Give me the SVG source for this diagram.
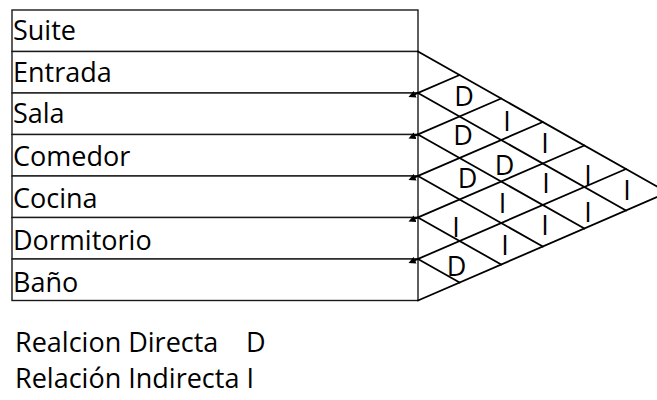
<svg xmlns="http://www.w3.org/2000/svg" width="657" height="400" viewBox="0 0 657 400">
  <style>
    .cell { fill: #ffffff; stroke: #1a1a1a; stroke-width: 1.4; }
    .label { font-family: "Open Sans", "Noto Sans", sans-serif; font-size: 27px; fill: #000000; }
    .mark { font-family: "Open Sans", "Noto Sans", sans-serif; font-size: 27px; fill: #000000; text-anchor: middle; }
    .grid line { stroke: #000000; stroke-width: 1.8; stroke-linecap: round; }
  </style>
  <defs>
    <marker id="tick" viewBox="0 0 6 6" refX="1" refY="3" markerWidth="4" markerHeight="4" orient="auto-start-reverse">
      <path d="M0,0 L6,3 L0,6 z" fill="#000000"/>
    </marker>
  </defs>
  <rect width="657" height="400" fill="#ffffff"/>

  <!-- room list -->
  <g id="suite"><rect class="cell" x="12" y="10" width="406" height="41.5"/><text class="label" x="13" y="40">Suite</text></g>
  <g id="entrada"><rect class="cell" x="12" y="51.5" width="406" height="41.5"/><text class="label" x="13" y="82.3">Entrada</text></g>
  <g id="sala"><rect class="cell" x="12" y="93" width="406" height="41.5"/><text class="label" x="13" y="123">Sala</text></g>
  <g id="comedor"><rect class="cell" x="12" y="134.5" width="406" height="41.5"/><text class="label" x="13" y="166">Comedor</text></g>
  <g id="cocina"><rect class="cell" x="12" y="176" width="406" height="41.5"/><text class="label" x="13" y="208">Cocina</text></g>
  <g id="dormitorio"><rect class="cell" x="12" y="217.5" width="406" height="41.5"/><text class="label" x="13" y="250">Dormitorio</text></g>
  <g id="bano"><rect class="cell" x="12" y="259" width="406" height="41.5"/><text class="label" x="13" y="291.7">Baño</text></g>

  <!-- relationship triangle: descending and ascending lattice lines -->
  <g id="connectors" class="grid">
    <line x1="418" y1="51.5" x2="667.6" y2="192.5"/>
    <line x1="418" y1="93" x2="626" y2="210.5"/>
    <line x1="418" y1="134.5" x2="584.4" y2="228.5"/>
    <line x1="418" y1="176" x2="542.8" y2="246.5"/>
    <line x1="418" y1="217.5" x2="501.2" y2="264.5"/>
    <line x1="418" y1="259" x2="459.6" y2="282.5"/>

    <line x1="414" y1="94.7" x2="459.6" y2="75" marker-start="url(#tick)"/>
    <line x1="414" y1="136.2" x2="501.2" y2="98.5" marker-start="url(#tick)"/>
    <line x1="414" y1="177.7" x2="542.8" y2="122" marker-start="url(#tick)"/>
    <line x1="414" y1="219.2" x2="584.4" y2="145.5" marker-start="url(#tick)"/>
    <line x1="414" y1="260.7" x2="626" y2="169" marker-start="url(#tick)"/>
    <line x1="418" y1="300.5" x2="667.6" y2="192.5"/>
  </g>

  <!-- relation marks -->
  <g id="marks">
    <text class="mark" x="464" y="106">D</text>
    <text class="mark" x="463" y="145">D</text>
    <text class="mark" x="467.5" y="188">D</text>
    <text class="mark" x="456" y="237">I</text>
    <text class="mark" x="456.5" y="276">D</text>
    <text class="mark" x="507" y="131">I</text>
    <text class="mark" x="504.5" y="175">D</text>
    <text class="mark" x="502.5" y="213">I</text>
    <text class="mark" x="505" y="255">I</text>
    <text class="mark" x="545" y="153">I</text>
    <text class="mark" x="546" y="193">I</text>
    <text class="mark" x="545" y="235">I</text>
    <text class="mark" x="588" y="185">I</text>
    <text class="mark" x="588" y="222">I</text>
    <text class="mark" x="627" y="200">I</text>
  </g>

  <!-- legend -->
  <g id="legend">
    <text class="label" x="15" y="352">Realcion Directa<tspan x="246">D</tspan></text>
    <text class="label" x="15" y="388">Relación Indirecta I</text>
  </g>
</svg>
